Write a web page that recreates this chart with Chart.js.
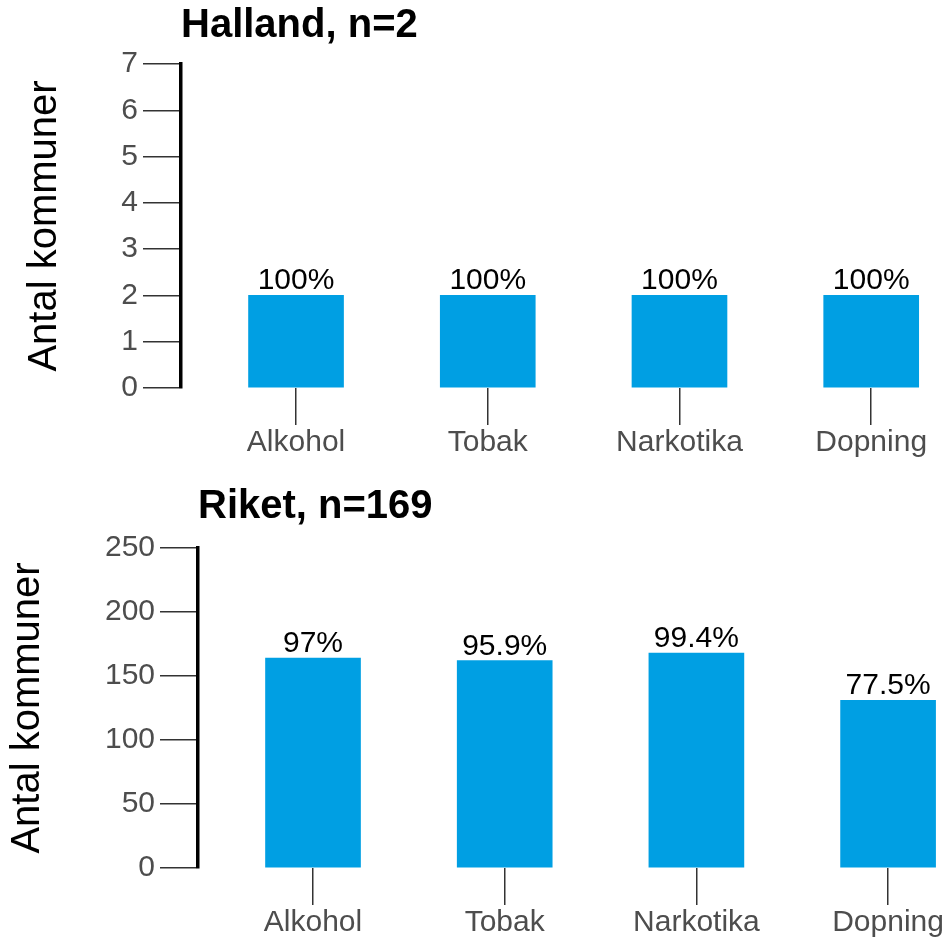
<!DOCTYPE html>
<html lang="sv">
<head>
<meta charset="utf-8">
<title>Antal kommuner</title>
<script src="https://cdn.jsdelivr.net/npm/chart.js@4.4.1/dist/chart.umd.min.js"></script>
<style>
    body { margin: 0; background: #fff; }
    .panel { width: 950px; height: 471px; position: relative; }
</style>
</head>
<body>
<div class="panel"><canvas id="halland-chart" width="950" height="471"></canvas></div>
<div class="panel"><canvas id="riket-chart" width="950" height="471"></canvas></div>

<script>
const categories = ['Alkohol', 'Tobak', 'Narkotika', 'Dopning'];

const hallandCounts = [2, 2, 2, 2];
const hallandPercent = [100, 100, 100, 100];
const hallandYTicks = [0, 1, 2, 3, 4, 5, 6, 7];

const riketCounts = [164, 162, 168, 131];
const riketPercent = [97, 95.9, 99.4, 77.5];
const riketYTicks = [0, 50, 100, 150, 200, 250];

const FONT = '"Liberation Sans", Arial, sans-serif';
const BAR_COLOR = '#009fe3';

// Skriver procenttalen ovanför staplarna
const percentLabels = {
    id: 'percentLabels',
    afterDatasetsDraw(chart, args, opts) {
        const ctx = chart.ctx;
        const meta = chart.getDatasetMeta(0);
        ctx.save();
        ctx.font = '30px ' + FONT;
        ctx.fillStyle = '#000';
        ctx.textAlign = 'center';
        ctx.textBaseline = 'alphabetic';
        meta.data.forEach((bar, i) => {
            ctx.fillText(opts.values[i] + '%', bar.x, bar.y - 6);
        });
        ctx.restore();
    }
};

function renderPanel(canvasId, opts) {
    const ctx = document.getElementById(canvasId).getContext('2d');
    const points = opts.counts.map((v, i) => ({ x: i, y: v }));

    return new Chart(ctx, {
        type: 'bar',
        data: {
            datasets: [{
                data: points,
                backgroundColor: BAR_COLOR,
                borderWidth: 0,
                barThickness: 95
            }]
        },
        plugins: [percentLabels],
        options: {
            responsive: false,
            animation: false,
            layout: {
                padding: { left: 0, right: 0, top: 0, bottom: opts.padBottom }
            },
            plugins: {
                legend: { display: false },
                tooltip: { enabled: false },
                percentLabels: { values: opts.percent },
                title: {
                    display: true,
                    text: opts.title,
                    align: 'start',
                    fullSize: false,
                    color: '#000',
                    font: { family: FONT, size: 40, weight: 'bold', lineHeight: 1.2 },
                    padding: { top: opts.titleTop, bottom: opts.titleBottom }
                }
            },
            scales: {
                x: {
                    type: 'linear',
                    offset: false,
                    min: -0.6,
                    max: opts.xMax,
                    afterBuildTicks: scale => {
                        scale.ticks = categories.map((c, i) => ({ value: i }));
                    },
                    ticks: {
                        callback: value => categories[value],
                        color: '#4d4d4d',
                        font: { family: FONT, size: 30 },
                        padding: 0,
                        maxRotation: 0,
                        autoSkip: false
                    },
                    grid: {
                        offset: false,
                        drawOnChartArea: false,
                        drawTicks: true,
                        tickLength: 37,
                        color: '#333',
                        lineWidth: 1.5
                    },
                    border: { display: false }
                },
                y: {
                    min: 0,
                    max: opts.yTicks[opts.yTicks.length - 1],
                    afterBuildTicks: scale => {
                        scale.ticks = opts.yTicks.map(v => ({ value: v }));
                    },
                    afterFit: scale => {
                        scale.width = opts.axisX;
                    },
                    ticks: {
                        color: '#4d4d4d',
                        font: { family: FONT, size: 30 },
                        padding: 5
                    },
                    grid: {
                        drawOnChartArea: false,
                        drawTicks: true,
                        tickLength: 38,
                        color: '#333',
                        lineWidth: 1.5
                    },
                    border: { display: true, color: '#000', width: 3.5 },
                    title: {
                        display: true,
                        text: 'Antal kommuner',
                        color: '#000',
                        font: { family: FONT, size: 40, lineHeight: 1.2 },
                        padding: { top: opts.yTitlePad, bottom: 0 }
                    }
                }
            }
        }
    });
}

renderPanel('halland-chart', {
    title: 'Halland, n=2',
    counts: hallandCounts,
    percent: hallandPercent,
    yTicks: hallandYTicks,
    axisX: 181,
    xMax: 3.411,
    titleTop: 2,
    titleBottom: 14,
    yTitlePad: 21,
    padBottom: 10
});

renderPanel('riket-chart', {
    title: 'Riket, n=169',
    counts: riketCounts,
    percent: riketPercent,
    yTicks: riketYTicks,
    axisX: 198,
    xMax: 3.323,
    titleTop: 12,
    titleBottom: 17,
    yTitlePad: 4,
    padBottom: 1
});
</script>
</body>
</html>
